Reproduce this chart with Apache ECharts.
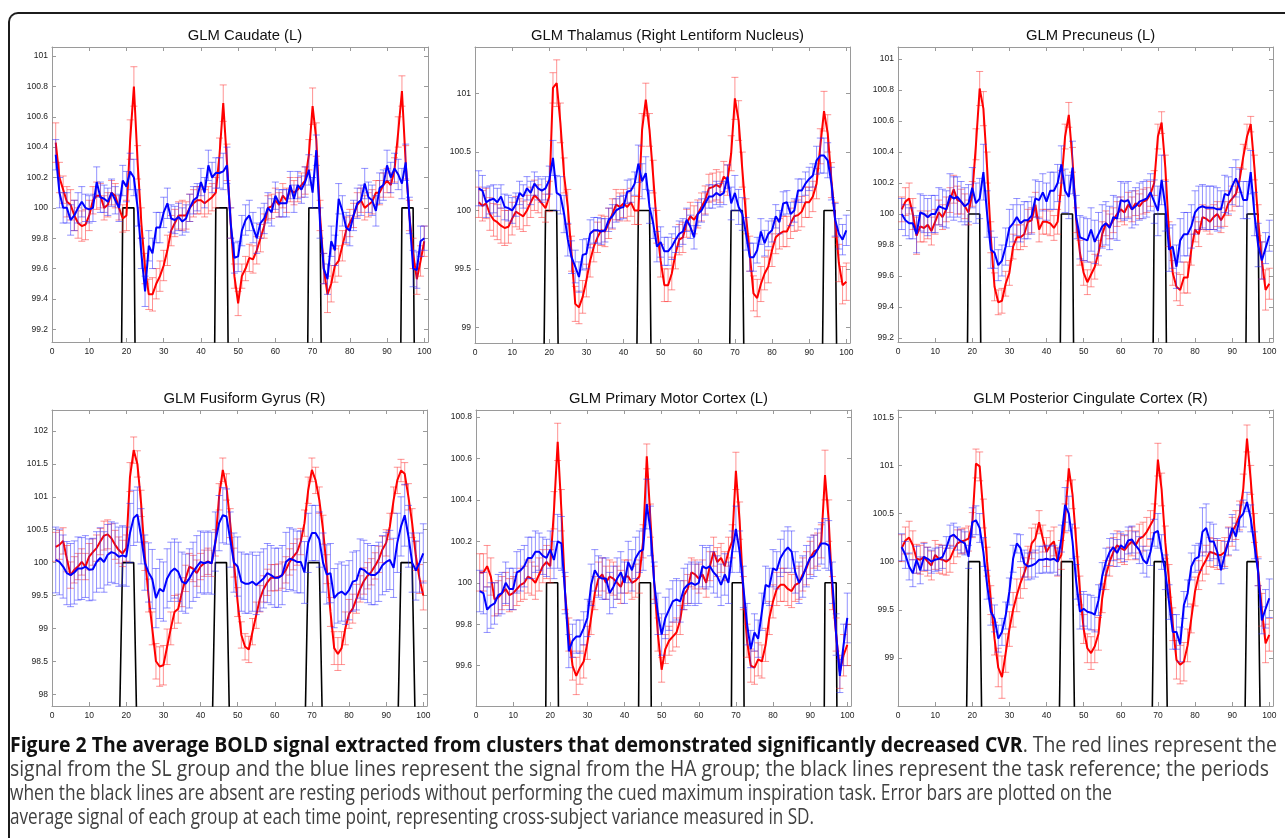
<!DOCTYPE html>
<html><head><meta charset="utf-8">
<script src="https://cdn.jsdelivr.net/npm/echarts@6/dist/echarts.min.js"></script>
<style>
html,body{margin:0;padding:0;background:#fff;width:1285px;height:838px;overflow:hidden}
#chart{position:absolute;left:0;top:0;width:1285px;height:838px}
#frame{position:absolute;left:8px;top:12px;width:1500px;height:900px;border-top:2px solid #1c1c1c;border-left:2px solid #1c1c1c;border-top-left-radius:10px;box-sizing:border-box;pointer-events:none}
#caption{position:absolute;left:10px;top:731px;width:1275px;height:100px;font-family:"Open Sans","Noto Sans",sans-serif;font-size:22px;line-height:24px;color:#404040}
#caption .cl{position:absolute;white-space:nowrap;transform-origin:0 50%;height:24px}
#caption b{color:#111;font-weight:700}
</style></head><body>
<div id="chart"></div>
<div id="frame"></div>
<div id="caption">
<span class="cl" style="left:0px;top:0px"><b>Figure 2 The average BOLD signal extracted from clusters that demonstrated significantly decreased CVR</b>. The red lines represent the</span>
<span class="cl" style="left:0px;top:24px">signal from the SL group and the blue lines represent the signal from the HA group; the black lines represent the task reference; the periods</span>
<span class="cl" style="left:0px;top:48px">when the black lines are absent are resting periods without performing the cued maximum inspiration task. Error bars are plotted on the</span>
<span class="cl" style="left:0px;top:72px">average signal of each group at each time point, representing cross-subject variance measured in SD.</span>
</div>
<script>
// ---------------- data ----------------
const timePoints = [1,2,3,4,5,6,7,8,9,10,11,12,13,14,15,16,17,18,19,20,21,22,23,24,25,26,27,28,29,30,31,32,33,34,35,36,37,38,39,40,41,42,43,44,45,46,47,48,49,50,51,52,53,54,55,56,57,58,59,60,61,62,63,64,65,66,67,68,69,70,71,72,73,74,75,76,77,78,79,80,81,82,83,84,85,86,87,88,89,90,91,92,93,94,95,96,97,98,99,100];
const taskRef = [97,97,97,97,97,97,97,97,97,97,97,97,97,97,97,97,97,97,100,100,100,100,97,97,97,97,97,97,97,97,97,97,97,97,97,97,97,97,97,97,97,97,97,100,100,100,100,97,97,97,97,97,97,97,97,97,97,97,97,97,97,97,97,97,97,97,97,97,100,100,100,100,97,97,97,97,97,97,97,97,97,97,97,97,97,97,97,97,97,97,97,97,97,100,100,100,100,97,97,97];
const xTicks = [0,10,20,30,40,50,60,70,80,90,100];
const panelTitles = ["GLM Caudate (L)","GLM Thalamus (Right Lentiform Nucleus)","GLM Precuneus (L)","GLM Fusiform Gyrus (R)","GLM Primary Motor Cortex (L)","GLM Posterior Cingulate Cortex (R)"];
const yLimits = [[99.116,101.06],[98.865,101.4],[99.174,101.078],[97.82,102.32],[99.405,100.834],[98.5,101.576]];
const caudateTicks = [99.2,99.4,99.6,99.8,100,100.2,100.4,100.6,100.8,101];
const thalamusTicks = [99,99.5,100,100.5,101];
const precuneusTicks = [99.2,99.4,99.6,99.8,100,100.2,100.4,100.6,100.8,101];
const fusiformTicks = [98,98.5,99,99.5,100,100.5,101,101.5,102];
const motorTicks = [99.6,99.8,100,100.2,100.4,100.6,100.8];
const cingulateTicks = [99,99.5,100,100.5,101,101.5];

const caudateSL = [100.43,100.2,100.12,100.04,100.02,99.95,99.9,99.88,99.89,99.95,100.05,100.08,100.08,100.0,100.02,100.1,100.08,100.0,99.93,99.95,100.45,100.8,100.3,99.9,99.6,99.43,99.43,99.5,99.55,99.62,99.72,99.85,99.9,99.95,99.95,99.95,100.0,100.03,100.05,100.05,100.03,100.05,100.07,100.1,100.35,100.69,100.3,99.9,99.55,99.37,99.55,99.6,99.67,99.66,99.72,99.8,99.88,100.0,100.01,100.05,100.02,100.08,100.05,100.12,100.1,100.12,100.15,100.18,100.35,100.67,100.45,99.95,99.6,99.43,99.5,99.62,99.65,99.75,99.85,99.9,99.95,100.02,100.05,100.0,100.02,100.04,100.1,100.1,100.15,100.18,100.15,100.25,100.5,100.77,100.3,99.95,99.7,99.53,99.65,99.78];
const caudateHA = [100.35,100.1,100.0,100.0,99.92,99.95,100.0,100.04,100.0,99.99,100.0,100.17,100.07,100.06,100.04,100.1,100.05,100.0,100.18,100.14,100.24,100.2,100.0,99.7,99.45,99.75,99.7,99.87,99.87,99.97,100.03,99.93,99.92,99.94,99.91,99.93,100.0,100.05,100.07,100.17,100.1,100.28,100.2,100.23,100.23,100.24,100.28,99.9,99.67,99.68,99.85,99.92,99.95,99.87,99.8,99.9,99.93,100.0,99.97,100.08,100.03,100.03,100.03,100.15,100.06,100.15,100.12,100.17,100.25,100.1,100.38,99.9,99.6,99.53,99.78,99.72,100.06,99.98,99.87,99.85,99.95,100.03,100.05,100.16,100.07,100.05,99.98,100.13,100.15,100.28,100.2,100.26,100.22,100.16,100.3,99.95,99.6,99.59,99.78,99.8];
const caudateSLsd = [0.13,0.1,0.09,0.1,0.1,0.1,0.1,0.1,0.1,0.1,0.09,0.09,0.08,0.08,0.08,0.08,0.08,0.08,0.09,0.1,0.13,0.13,0.11,0.1,0.1,0.1,0.11,0.1,0.1,0.1,0.1,0.1,0.09,0.09,0.1,0.09,0.09,0.09,0.09,0.09,0.09,0.09,0.09,0.1,0.11,0.12,0.12,0.1,0.08,0.08,0.08,0.08,0.09,0.09,0.09,0.09,0.08,0.08,0.08,0.08,0.08,0.08,0.08,0.08,0.08,0.08,0.08,0.09,0.1,0.12,0.11,0.1,0.1,0.12,0.12,0.11,0.1,0.1,0.09,0.09,0.08,0.08,0.08,0.08,0.08,0.08,0.08,0.08,0.08,0.08,0.08,0.08,0.1,0.1,0.11,0.1,0.1,0.1,0.1,0.1];
const caudateHAsd = [0.1,0.1,0.1,0.1,0.1,0.1,0.1,0.1,0.09,0.09,0.09,0.1,0.1,0.09,0.09,0.09,0.09,0.09,0.1,0.1,0.12,0.12,0.12,0.1,0.1,0.1,0.1,0.1,0.1,0.1,0.1,0.09,0.09,0.09,0.09,0.09,0.09,0.09,0.09,0.09,0.1,0.1,0.1,0.1,0.1,0.12,0.12,0.1,0.1,0.1,0.1,0.1,0.1,0.1,0.1,0.1,0.1,0.1,0.09,0.09,0.09,0.09,0.09,0.09,0.09,0.09,0.09,0.1,0.1,0.1,0.1,0.1,0.1,0.1,0.1,0.1,0.1,0.1,0.1,0.1,0.1,0.1,0.1,0.1,0.1,0.1,0.1,0.1,0.1,0.1,0.1,0.1,0.1,0.1,0.12,0.12,0.12,0.12,0.1,0.08];

const thalamusSL = [100.07,100.04,100.06,99.97,99.92,99.9,99.87,99.85,99.86,99.93,99.99,99.97,99.95,100.0,100.07,100.13,100.1,100.06,100.02,100.12,101.05,101.09,100.75,100.3,100.03,99.63,99.2,99.17,99.26,99.4,99.57,99.69,99.77,99.83,99.82,99.89,99.97,100.05,100.03,100.06,100.03,100.07,100.0,100.0,100.69,100.95,100.69,100.29,99.86,99.57,99.36,99.36,99.46,99.63,99.75,99.77,99.89,99.95,99.92,99.97,100.03,100.09,100.19,100.2,100.22,100.2,100.29,100.26,100.49,100.96,100.77,100.35,99.95,99.63,99.29,99.25,99.37,99.46,99.52,99.66,99.77,99.8,99.82,99.82,99.89,99.95,99.96,99.99,100.07,100.07,100.12,100.23,100.55,100.85,100.66,100.26,99.92,99.55,99.36,99.39];
const thalamusHA = [100.19,100.17,100.07,100.09,100.1,100.07,100.12,100.03,100.02,100.0,100.05,100.15,100.12,100.19,100.15,100.23,100.19,100.17,100.19,100.26,100.45,100.15,100.13,99.97,99.75,99.6,99.52,99.43,99.62,99.63,99.8,99.83,99.83,99.82,99.83,99.92,99.95,100.0,100.02,100.03,100.16,100.17,100.23,100.4,100.25,100.32,100.03,99.89,99.69,99.73,99.65,99.65,99.69,99.75,99.8,99.82,99.92,99.86,99.77,99.97,100.0,100.06,100.12,100.12,100.15,100.13,100.15,100.29,100.06,100.15,100.03,99.97,99.8,99.6,99.6,99.66,99.82,99.72,99.8,99.83,99.95,99.9,100.06,100.07,99.97,100.0,100.17,100.17,100.23,100.27,100.3,100.43,100.47,100.47,100.43,100.23,99.92,99.8,99.75,99.83];
const thalamusSLsd = [0.13,0.13,0.13,0.14,0.14,0.15,0.15,0.15,0.14,0.14,0.13,0.13,0.13,0.13,0.13,0.13,0.12,0.12,0.12,0.13,0.13,0.2,0.17,0.15,0.15,0.15,0.15,0.14,0.14,0.14,0.14,0.13,0.13,0.13,0.13,0.13,0.13,0.13,0.12,0.12,0.12,0.12,0.12,0.12,0.14,0.14,0.14,0.14,0.14,0.14,0.14,0.14,0.14,0.13,0.13,0.13,0.12,0.12,0.12,0.12,0.12,0.12,0.12,0.12,0.13,0.13,0.13,0.13,0.15,0.18,0.17,0.15,0.15,0.15,0.15,0.16,0.15,0.14,0.14,0.14,0.14,0.13,0.13,0.13,0.13,0.13,0.13,0.13,0.13,0.13,0.13,0.13,0.15,0.17,0.16,0.15,0.15,0.16,0.16,0.16];
const thalamusHAsd = [0.15,0.13,0.13,0.12,0.12,0.12,0.1,0.11,0.11,0.11,0.1,0.1,0.1,0.1,0.1,0.1,0.1,0.1,0.1,0.12,0.15,0.15,0.16,0.16,0.14,0.14,0.14,0.13,0.13,0.13,0.12,0.11,0.11,0.11,0.1,0.1,0.1,0.1,0.1,0.1,0.1,0.1,0.1,0.16,0.15,0.14,0.14,0.13,0.13,0.13,0.12,0.12,0.11,0.11,0.11,0.11,0.1,0.1,0.1,0.1,0.1,0.1,0.1,0.1,0.1,0.1,0.1,0.1,0.14,0.15,0.15,0.14,0.14,0.12,0.12,0.11,0.11,0.11,0.11,0.1,0.1,0.1,0.1,0.1,0.1,0.1,0.1,0.1,0.1,0.1,0.1,0.12,0.15,0.15,0.15,0.14,0.14,0.13,0.13,0.13];

const precuneusSL = [100.03,100.08,100.1,100.0,99.86,99.92,99.91,99.93,99.89,99.95,100.01,99.98,100.03,100.09,100.16,100.09,100.08,100.05,100.01,100.13,100.45,100.81,100.68,100.3,99.85,99.53,99.43,99.44,99.55,99.62,99.79,99.85,99.85,99.87,99.95,99.96,100.06,99.9,99.95,99.95,99.94,99.91,99.95,100.2,100.5,100.64,100.35,99.96,99.75,99.62,99.56,99.61,99.66,99.75,99.87,99.94,99.92,99.96,100.0,100.03,100.01,100.06,100.03,100.07,100.05,100.08,100.09,100.13,100.2,100.5,100.59,100.3,99.87,99.62,99.53,99.51,99.59,99.59,99.77,99.9,99.87,99.98,99.97,99.95,99.98,100.0,99.96,100.0,100.07,100.1,100.13,100.22,100.37,100.5,100.58,100.3,99.96,99.7,99.51,99.55];
const precuneusHA = [100.0,99.96,99.94,99.94,99.87,100.01,100.0,99.98,100.0,100.0,100.05,100.04,100.03,100.12,100.1,100.11,100.08,100.05,100.07,100.17,100.07,100.1,100.27,100.0,99.77,99.75,99.67,99.7,99.79,99.91,99.94,99.98,99.94,99.96,99.96,99.99,100.1,100.09,100.14,100.08,100.15,100.15,100.2,100.32,100.15,100.11,100.3,99.98,99.85,99.84,99.83,99.9,99.82,99.87,99.92,99.94,99.91,99.98,99.97,100.09,100.08,100.09,100.03,100.05,100.08,100.09,100.1,100.14,100.08,100.02,100.22,100.05,99.77,99.79,99.66,99.83,99.87,99.87,99.92,100.01,100.04,100.05,100.04,100.04,100.04,100.03,100.03,100.13,100.12,100.18,100.23,100.17,100.09,100.09,100.27,100.0,99.8,99.7,99.78,99.86];
const precuneusSLsd = [0.08,0.09,0.1,0.1,0.12,0.1,0.09,0.09,0.09,0.08,0.08,0.08,0.08,0.08,0.09,0.09,0.08,0.08,0.08,0.08,0.1,0.11,0.11,0.1,0.1,0.09,0.08,0.08,0.08,0.08,0.08,0.08,0.08,0.08,0.08,0.08,0.08,0.08,0.08,0.08,0.08,0.08,0.08,0.08,0.08,0.08,0.08,0.08,0.08,0.08,0.08,0.08,0.08,0.08,0.08,0.08,0.08,0.08,0.08,0.08,0.08,0.08,0.08,0.08,0.08,0.08,0.08,0.08,0.08,0.08,0.07,0.08,0.08,0.08,0.09,0.1,0.1,0.1,0.1,0.08,0.08,0.08,0.08,0.08,0.08,0.08,0.08,0.08,0.08,0.08,0.08,0.08,0.08,0.08,0.05,0.08,0.1,0.12,0.13,0.1];
const precuneusHAsd = [0.1,0.1,0.1,0.1,0.12,0.12,0.12,0.12,0.12,0.12,0.12,0.12,0.12,0.14,0.14,0.13,0.13,0.12,0.12,0.13,0.13,0.13,0.18,0.15,0.12,0.1,0.1,0.1,0.12,0.12,0.12,0.12,0.12,0.12,0.12,0.12,0.12,0.12,0.12,0.12,0.12,0.12,0.12,0.12,0.14,0.14,0.17,0.14,0.14,0.14,0.14,0.14,0.14,0.14,0.14,0.14,0.14,0.14,0.14,0.12,0.12,0.12,0.12,0.12,0.12,0.12,0.12,0.12,0.14,0.16,0.16,0.16,0.14,0.14,0.14,0.14,0.14,0.14,0.14,0.14,0.14,0.14,0.14,0.14,0.14,0.14,0.12,0.12,0.12,0.12,0.12,0.12,0.12,0.12,0.14,0.14,0.14,0.12,0.1,0.1];

const fusiformSL = [100.24,100.27,100.33,100.06,99.81,99.89,99.94,100.01,99.94,100.09,100.16,100.22,100.32,100.41,100.43,100.37,100.27,100.19,100.14,100.22,101.3,101.71,101.5,100.9,100.1,99.5,99.0,98.5,98.42,98.44,98.72,99.0,99.25,99.3,99.55,99.76,99.94,99.91,99.84,99.94,99.99,100.02,99.99,100.3,101.0,101.41,101.15,100.6,100.0,99.4,98.9,98.72,98.68,98.95,99.2,99.45,99.6,99.7,99.77,99.77,99.78,99.81,99.89,100.01,100.09,100.16,100.32,100.6,101.1,101.41,101.25,100.95,100.5,99.9,99.25,98.7,98.61,98.7,99.0,99.22,99.3,99.45,99.6,99.72,99.8,99.86,99.95,100.05,100.2,100.3,100.55,100.95,101.25,101.4,101.35,101.0,100.6,100.1,99.75,99.5];
const fusiformHA = [100.04,100.01,99.94,99.84,99.81,99.85,99.91,99.91,99.94,99.89,99.9,100.01,100.07,100.01,100.12,100.16,100.14,100.09,100.11,100.09,100.45,100.68,100.73,100.4,100.0,99.85,99.75,99.46,99.6,99.56,99.76,99.86,99.91,99.86,99.71,99.68,99.76,99.86,99.94,100.01,99.99,100.01,99.99,100.32,100.6,100.72,100.7,100.35,100.0,99.94,99.71,99.68,99.68,99.71,99.66,99.71,99.76,99.84,99.81,99.77,99.77,99.81,100.01,100.06,100.04,100.01,100.01,99.85,100.3,100.45,100.45,100.35,100.0,99.82,99.84,99.46,99.53,99.56,99.51,99.58,99.71,99.73,99.91,99.89,99.84,99.81,99.81,99.86,99.96,100.01,100.04,99.92,100.3,100.55,100.72,100.4,100.0,99.88,100.0,100.14];
const fusiformSLsd = [0.22,0.22,0.2,0.2,0.2,0.2,0.2,0.2,0.2,0.2,0.2,0.2,0.2,0.22,0.22,0.22,0.22,0.2,0.2,0.2,0.22,0.2,0.2,0.2,0.22,0.25,0.25,0.27,0.3,0.3,0.27,0.25,0.25,0.22,0.22,0.2,0.2,0.2,0.2,0.2,0.2,0.2,0.2,0.2,0.2,0.18,0.2,0.22,0.22,0.22,0.2,0.2,0.2,0.2,0.2,0.2,0.2,0.2,0.2,0.2,0.2,0.2,0.2,0.2,0.2,0.2,0.2,0.2,0.2,0.18,0.2,0.2,0.22,0.22,0.22,0.25,0.25,0.25,0.25,0.22,0.22,0.22,0.2,0.2,0.2,0.2,0.2,0.2,0.2,0.2,0.2,0.2,0.2,0.17,0.17,0.2,0.22,0.22,0.22,0.22];
const fusiformHAsd = [0.5,0.5,0.48,0.48,0.48,0.48,0.48,0.47,0.47,0.47,0.47,0.46,0.46,0.46,0.46,0.46,0.46,0.45,0.45,0.45,0.45,0.42,0.42,0.42,0.42,0.45,0.45,0.45,0.45,0.45,0.45,0.45,0.45,0.45,0.45,0.45,0.45,0.45,0.47,0.47,0.47,0.47,0.47,0.45,0.42,0.42,0.42,0.42,0.45,0.45,0.45,0.45,0.45,0.45,0.45,0.45,0.45,0.45,0.45,0.45,0.45,0.45,0.45,0.47,0.47,0.47,0.47,0.47,0.45,0.42,0.42,0.42,0.45,0.45,0.45,0.45,0.45,0.45,0.45,0.45,0.45,0.45,0.45,0.45,0.45,0.45,0.45,0.45,0.45,0.45,0.45,0.45,0.45,0.45,0.47,0.47,0.45,0.45,0.45,0.45];

const motorSL = [100.05,100.05,100.08,100.03,99.92,99.93,99.95,99.97,99.94,99.95,99.97,99.99,100.0,100.03,100.02,100.0,100.04,100.08,100.1,100.08,100.35,100.68,100.35,99.95,99.75,99.6,99.55,99.59,99.62,99.71,99.83,99.95,100.02,100.04,100.0,100.03,100.02,100.0,99.98,100.03,100.03,100.0,100.01,100.03,100.2,100.61,100.3,100.0,99.75,99.58,99.68,99.72,99.74,99.76,99.82,99.94,99.97,100.05,100.04,100.02,100.04,100.0,100.08,100.15,100.1,100.12,100.08,100.15,100.2,100.54,100.3,99.95,99.72,99.6,99.59,99.63,99.62,99.7,99.83,99.91,99.97,99.99,99.99,99.97,99.96,99.99,100.0,100.04,100.07,100.12,100.15,100.16,100.2,100.52,100.3,99.95,99.75,99.57,99.65,99.7];
const motorHA = [99.96,99.95,99.87,99.89,99.9,99.94,99.95,100.0,99.97,99.97,100.05,100.06,100.08,100.12,100.12,100.15,100.15,100.13,100.12,100.16,100.11,100.2,100.19,99.95,99.67,99.72,99.74,99.74,99.78,99.83,99.99,100.06,100.03,100.02,100.02,99.95,99.98,100.02,100.05,100.0,100.1,100.06,100.12,100.15,100.16,100.38,100.25,100.0,99.85,99.75,99.83,99.87,99.91,99.92,99.91,99.97,99.99,100.0,99.99,100.0,100.08,100.07,100.08,100.05,100.03,99.99,100.04,100.0,100.15,100.26,100.15,99.98,99.8,99.68,99.76,99.73,99.86,99.99,99.98,100.07,100.06,100.12,100.15,100.17,100.15,100.05,100.0,100.03,100.08,100.12,100.13,100.16,100.19,100.19,100.18,100.0,99.75,99.55,99.7,99.83];
const motorSLsd = [0.09,0.09,0.1,0.09,0.08,0.08,0.08,0.08,0.08,0.08,0.08,0.08,0.08,0.08,0.08,0.08,0.08,0.08,0.08,0.08,0.09,0.09,0.1,0.08,0.08,0.07,0.09,0.08,0.08,0.08,0.08,0.08,0.08,0.08,0.08,0.08,0.08,0.08,0.08,0.08,0.08,0.08,0.08,0.08,0.08,0.06,0.08,0.08,0.08,0.06,0.07,0.07,0.07,0.07,0.07,0.07,0.07,0.07,0.07,0.07,0.07,0.07,0.07,0.07,0.07,0.07,0.07,0.07,0.08,0.09,0.09,0.08,0.08,0.08,0.08,0.08,0.08,0.08,0.08,0.08,0.08,0.08,0.08,0.08,0.08,0.08,0.08,0.08,0.08,0.08,0.08,0.08,0.08,0.12,0.1,0.08,0.08,0.08,0.1,0.1];
const motorHAsd = [0.1,0.1,0.11,0.11,0.1,0.1,0.1,0.1,0.1,0.1,0.1,0.1,0.1,0.1,0.1,0.1,0.09,0.09,0.09,0.09,0.09,0.13,0.13,0.1,0.08,0.08,0.08,0.08,0.08,0.09,0.1,0.1,0.1,0.1,0.1,0.1,0.1,0.1,0.1,0.1,0.1,0.1,0.1,0.1,0.1,0.12,0.12,0.1,0.1,0.1,0.1,0.1,0.1,0.1,0.1,0.1,0.1,0.1,0.1,0.1,0.1,0.1,0.1,0.1,0.1,0.1,0.1,0.1,0.1,0.11,0.1,0.1,0.1,0.09,0.09,0.09,0.09,0.09,0.09,0.09,0.09,0.09,0.1,0.1,0.1,0.1,0.1,0.1,0.1,0.1,0.1,0.1,0.1,0.12,0.12,0.1,0.1,0.08,0.1,0.12];

const cingulateSL = [100.14,100.22,100.25,100.17,100.03,100.02,100.05,100.0,99.96,100.07,100.03,100.02,100.0,100.03,100.12,100.19,100.21,100.22,100.24,100.38,101.02,100.99,100.5,100.0,99.6,99.2,98.9,98.8,99.05,99.3,99.5,99.65,99.78,99.88,100.0,100.19,100.24,100.41,100.24,100.1,100.17,100.21,100.0,100.07,100.45,100.97,100.7,100.2,99.7,99.3,99.1,99.05,99.12,99.25,99.62,99.86,100.0,100.1,100.17,100.14,100.12,100.17,100.21,100.17,100.24,100.26,100.31,100.38,100.45,101.06,100.75,100.2,99.8,99.35,98.98,98.93,98.96,99.13,99.41,99.69,99.86,99.95,100.02,100.1,100.09,100.07,100.07,100.1,100.21,100.31,100.38,100.48,100.76,101.28,100.85,100.35,99.9,99.5,99.15,99.24];
const cingulateHA = [100.15,100.07,99.95,99.88,100.02,99.91,100.05,100.03,100.0,100.02,100.03,100.05,100.14,100.26,100.28,100.24,100.21,100.19,100.05,100.41,100.43,100.35,100.1,99.76,99.48,99.41,99.2,99.27,99.44,99.69,100.03,100.19,100.14,99.98,99.95,99.96,99.98,100.02,100.02,100.03,100.02,100.03,100.0,100.24,100.59,100.5,100.21,99.79,99.48,99.51,99.48,99.47,99.45,99.6,99.85,100.0,100.1,100.15,100.09,100.17,100.14,100.22,100.23,100.17,100.12,100.02,99.98,100.1,100.3,100.32,100.1,99.89,99.58,99.27,99.27,99.14,99.55,99.67,99.95,100.03,100.05,100.31,100.35,100.21,100.21,100.1,99.91,100.07,100.21,100.35,100.26,100.45,100.5,100.62,100.45,100.17,99.89,99.39,99.51,99.62];
const cingulateSLsd = [0.14,0.14,0.17,0.15,0.15,0.15,0.15,0.15,0.15,0.15,0.15,0.15,0.14,0.14,0.14,0.14,0.13,0.13,0.13,0.13,0.15,0.15,0.15,0.15,0.15,0.17,0.2,0.22,0.2,0.18,0.18,0.17,0.16,0.16,0.16,0.16,0.15,0.12,0.14,0.15,0.15,0.15,0.15,0.15,0.15,0.13,0.15,0.15,0.15,0.15,0.15,0.17,0.17,0.17,0.15,0.15,0.15,0.15,0.15,0.15,0.15,0.15,0.15,0.15,0.15,0.15,0.15,0.15,0.15,0.17,0.17,0.17,0.17,0.17,0.2,0.2,0.2,0.17,0.15,0.15,0.15,0.15,0.15,0.15,0.15,0.15,0.15,0.15,0.15,0.15,0.15,0.15,0.15,0.14,0.15,0.15,0.15,0.17,0.2,0.17];
const cingulateHAsd = [0.14,0.14,0.14,0.14,0.14,0.14,0.14,0.12,0.12,0.12,0.12,0.12,0.12,0.12,0.12,0.12,0.12,0.12,0.12,0.15,0.15,0.15,0.15,0.15,0.14,0.14,0.14,0.14,0.14,0.14,0.14,0.1,0.14,0.14,0.14,0.14,0.14,0.14,0.14,0.14,0.14,0.14,0.14,0.14,0.18,0.18,0.18,0.18,0.18,0.18,0.18,0.18,0.18,0.16,0.14,0.14,0.14,0.14,0.14,0.14,0.14,0.14,0.14,0.14,0.14,0.14,0.14,0.14,0.14,0.18,0.18,0.18,0.18,0.18,0.18,0.18,0.14,0.14,0.14,0.14,0.14,0.25,0.25,0.2,0.18,0.14,0.14,0.14,0.14,0.14,0.14,0.14,0.14,0.1,0.14,0.14,0.14,0.14,0.2,0.2];

// ---------------- build ----------------
const panelSL = [caudateSL, thalamusSL, precuneusSL, fusiformSL, motorSL, cingulateSL];
const panelHA = [caudateHA, thalamusHA, precuneusHA, fusiformHA, motorHA, cingulateHA];
const panelSLsd = [caudateSLsd, thalamusSLsd, precuneusSLsd, fusiformSLsd, motorSLsd, cingulateSLsd];
const panelHAsd = [caudateHAsd, thalamusHAsd, precuneusHAsd, fusiformHAsd, motorHAsd, cingulateHAsd];
const panelTicks = [caudateTicks, thalamusTicks, precuneusTicks, fusiformTicks, motorTicks, cingulateTicks];

// layout: [left, top, width, height]
const boxes = [[52,47,376,295],[475,47,375,296],[898,47,375,295],[52,410,375,296],[476,410,375,296],[898,410,375,296]];
const titleTops = [23,23,23,386,386,386];

const FONT = '"Liberation Sans", Arial, Helvetica, sans-serif';
const AXC = '#9a9a9a';

function errRender(color){
  return function(params, api){
    const x = api.value(0), m = api.value(1), s = api.value(2);
    const p1 = api.coord([x, m + s]), p2 = api.coord([x, m - s]);
    const hw = 3.5;
    const st = {stroke: color, lineWidth: 1};
    return {type:'group', children:[
      {type:'line', shape:{x1:p1[0], y1:p1[1], x2:p2[0], y2:p2[1]}, style:st},
      {type:'line', shape:{x1:p1[0]-hw, y1:p1[1], x2:p1[0]+hw, y2:p1[1]}, style:st},
      {type:'line', shape:{x1:p2[0]-hw, y1:p2[1], x2:p2[0]+hw, y2:p2[1]}, style:st}
    ]};
  };
}

const grid = [], xAxis = [], yAxis = [], series = [], title = [];
for (let i = 0; i < 6; i++) {
  const b = boxes[i];
  grid.push({left:b[0], top:b[1], width:b[2], height:b[3], containLabel:false});
  title.push({text:panelTitles[i], left:b[0] + b[2]/2, top:titleTops[i], textAlign:'center',
    textStyle:{fontFamily:FONT, fontSize:14.8, fontWeight:'normal', color:'#111'}});
  const baseX = {gridIndex:i, type:'value', min:0, max:101,
    axisLine:{show:true, onZero:false, lineStyle:{color:AXC, width:1}},
    axisTick:{show:true, inside:true, length:4, customValues:xTicks, lineStyle:{color:AXC}},
    splitLine:{show:false}};
  xAxis.push(Object.assign({}, baseX, {position:'bottom',
    axisLabel:{show:true, customValues:xTicks, fontFamily:FONT, fontSize:8.5, color:'#222', margin:5, showMaxLabel:true}}));
  xAxis.push(Object.assign({}, baseX, {position:'top', axisLabel:{show:false}}));
  const yt = panelTicks[i];
  const baseY = {gridIndex:i, type:'value', min:yLimits[i][0], max:yLimits[i][1],
    axisLine:{show:true, onZero:false, lineStyle:{color:AXC, width:1}},
    axisTick:{show:true, inside:true, length:4, customValues:yt, lineStyle:{color:AXC}},
    splitLine:{show:false}};
  yAxis.push(Object.assign({}, baseY, {position:'left',
    axisLabel:{show:true, customValues:yt, fontFamily:FONT, fontSize:8.5, color:'#222', margin:4}}));
  yAxis.push(Object.assign({}, baseY, {position:'right', axisLabel:{show:false}}));

  const xi = 2*i, yi = 2*i;
  series.push({type:'line', xAxisIndex:xi, yAxisIndex:yi, data: timePoints.map((t,k)=>[t, taskRef[k]]),
    showSymbol:false, symbol:'none', clip:true, lineStyle:{color:'#000', width:1.6}, z:1, silent:true});
  series.push({type:'custom', xAxisIndex:xi, yAxisIndex:yi, renderItem: errRender('rgba(255,40,40,0.5)'),
    data: timePoints.map((t,k)=>[t, panelSL[i][k], panelSLsd[i][k]]), encode:{x:0, y:1}, clip:true, z:2, silent:true});
  series.push({type:'line', xAxisIndex:xi, yAxisIndex:yi, data: timePoints.map((t,k)=>[t, panelSL[i][k]]),
    showSymbol:false, symbol:'none', clip:true, lineStyle:{color:'#ff0000', width:2}, z:3, silent:true});
  series.push({type:'custom', xAxisIndex:xi, yAxisIndex:yi, renderItem: errRender('rgba(40,40,255,0.5)'),
    data: timePoints.map((t,k)=>[t, panelHA[i][k], panelHAsd[i][k]]), encode:{x:0, y:1}, clip:true, z:4, silent:true});
  series.push({type:'line', xAxisIndex:xi, yAxisIndex:yi, data: timePoints.map((t,k)=>[t, panelHA[i][k]]),
    showSymbol:false, symbol:'none', clip:true, lineStyle:{color:'#0000ff', width:2}, z:5, silent:true});
}

const chart = echarts.init(document.getElementById('chart'), null, {renderer:'canvas', width:1285, height:838});
chart.setOption({animation:false, backgroundColor:'#fff', title, grid, xAxis, yAxis, series});

// caption lines fitted to the reference widths
const captionWidths = [1267, 1259, 1102, 804];
document.querySelectorAll('#caption .cl').forEach((el, i) => {
  const w = el.getBoundingClientRect().width;
  if (w > 0) el.style.transform = 'scaleX(' + (captionWidths[i] / w) + ')';
});
</script>
</body></html>
